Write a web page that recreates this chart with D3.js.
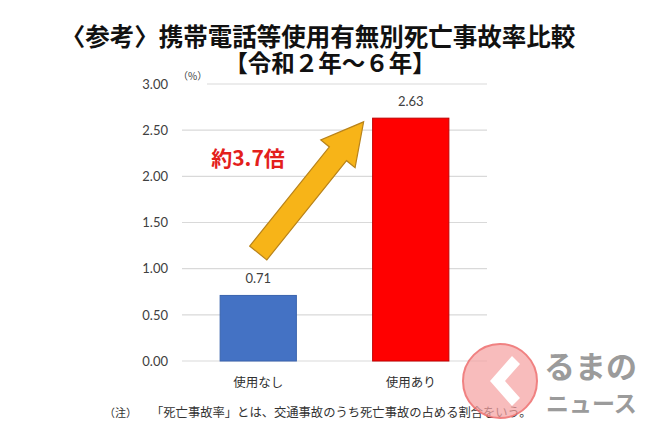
<!DOCTYPE html>
<html><head><meta charset="utf-8">
<script src="https://cdn.jsdelivr.net/npm/d3@7"></script>
<style>
html,body{margin:0;padding:0;background:#fff;}
svg{display:block;}
</style></head>
<body><svg id="c" width="650" height="433"></svg>
<script>
const categories = ["使用なし", "使用あり"];
const values = [0.71, 2.63];
const barColors = ["#4472c4", "#ff0000"];
const barStrokes = ["#3a63ad", "#c00000"];
const yTicks = [0, 0.5, 1.0, 1.5, 2.0, 2.5, 3.0];
const titleLines = ["〈参考〉携帯電話等使用有無別死亡事故率比較", "【令和２年～６年】"];
const unitLabel = "（%）";
const ratioLabel = "約3.7倍";
const noteLabel = "（注）";
const noteText = "「死亡事故率」とは、交通事故のうち死亡事故の占める割合をいう。";

const svg = d3.select("#c");
const jp = "'Noto Sans CJK JP','Noto Sans',sans-serif";
const num = "Lato,'Open Sans',sans-serif";

const x = d3.scaleBand().domain(categories).range([182, 487]).paddingInner(0.5).paddingOuter(0.25);
const y = d3.scaleLinear().domain([0, 3]).range([361, 84]);

// title (one text element, two lines)
const t = svg.append("text").attr("text-anchor", "middle")
  .attr("font-family", jp).attr("font-weight", "bold").attr("fill", "#111");
t.append("tspan").attr("x", 318).attr("y", 46).attr("font-size", 24.5).text(titleLines[0]);
t.append("tspan").attr("x", 330).attr("y", 72).attr("font-size", 23.5).text(titleLines[1]);

// gridlines
svg.append("g").selectAll("line").data(yTicks).join("line")
  .attr("x1", d => d === 3 ? 207 : 182).attr("x2", 487)
  .attr("y1", d => y(d)).attr("y2", d => y(d))
  .attr("stroke", "#d9d9d9").attr("stroke-width", 1.2);

// y axis labels
const yAxis = d3.axisLeft(y).tickValues(yTicks).tickFormat(d3.format(".2f")).tickSize(0).tickPadding(14);
const ga = svg.append("g").attr("transform", "translate(182,0)").call(yAxis);
ga.select(".domain").remove();
ga.selectAll("text").attr("font-family", num).attr("font-size", 13).attr("fill", "#404040");

svg.append("text").attr("x", 178).attr("y", 80).attr("font-family", jp).attr("font-size", 10).attr("fill", "#404040")
  .text(unitLabel);

// bars
svg.append("g").selectAll("rect").data(values).join("rect")
  .attr("x", (d, i) => x(categories[i]))
  .attr("width", x.bandwidth())
  .attr("y", d => y(d))
  .attr("height", d => y(0) - y(d))
  .attr("fill", (d, i) => barColors[i])
  .attr("stroke", (d, i) => barStrokes[i]).attr("stroke-width", 1);

// value labels
svg.append("g").selectAll("text").data(values).join("text")
  .attr("x", (d, i) => x(categories[i]) + x.bandwidth() / 2)
  .attr("y", d => y(d) - 12)
  .attr("text-anchor", "middle").attr("font-family", num).attr("font-size", 13).attr("fill", "#404040")
  .text(d => d.toFixed(2));

// category labels
svg.append("g").selectAll("text").data(categories).join("text")
  .attr("x", d => x(d) + x.bandwidth() / 2).attr("y", 387)
  .attr("text-anchor", "middle").attr("font-family", jp).attr("font-size", 12.5).attr("fill", "#303030")
  .text(d => d);

// arrow
const tail = [x(categories[0]) + x.bandwidth() / 2, y(1.17)];
const tip = [x(categories[1]) - 9, y(2.59)];
const dx = tip[0] - tail[0], dy = tip[1] - tail[1];
const L = Math.hypot(dx, dy), ang = Math.atan2(dy, dx) * 180 / Math.PI;
const w = 11, h = 22, hl = 41;
const pts = [[0, -w], [L - hl, -w], [L - hl, -h], [L, 0], [L - hl, h], [L - hl, w], [0, w]];
svg.append("polygon")
  .attr("points", pts.map(p => p.join(",")).join(" "))
  .attr("transform", `translate(${tail[0]},${tail[1]}) rotate(${ang})`)
  .attr("fill", "#f7b418").attr("stroke", "#b9831a").attr("stroke-width", 1.2).attr("stroke-linejoin", "miter");

svg.append("text").attr("x", 248).attr("y", 166).attr("text-anchor", "middle")
  .attr("font-family", jp).attr("font-weight", "bold").attr("font-size", 21).attr("fill", "#e3201b")
  .text(ratioLabel);

// footnote
svg.append("text").attr("x", 104).attr("y", 417).attr("font-family", jp).attr("font-size", 11).attr("fill", "#333")
  .text(noteLabel);
svg.append("text").attr("x", 151).attr("y", 417).attr("font-family", jp).attr("font-size", 12.3).attr("fill", "#333")
  .text(noteText);

// watermark logo
const wm = svg.append("g").attr("opacity", 0.85);
wm.append("circle").attr("cx", 500).attr("cy", 381).attr("r", 37)
  .attr("fill", "#f6a3a3").attr("fill-opacity", 0.85).attr("stroke", "#ee6c6c").attr("stroke-width", 2);
wm.append("path").attr("d", "M512,356 L490,381 L512,406 L520,398 L505,381 L520,364 Z").attr("fill", "#fff");
wm.append("text").attr("x", 544).attr("y", 378).attr("font-family", jp).attr("font-weight", "bold")
  .attr("font-size", 31).attr("fill", "#8a8a8a").text("るまの");
wm.append("text").attr("x", 546).attr("y", 412).attr("font-family", jp).attr("font-weight", "bold")
  .attr("font-size", 23).attr("fill", "#8a8a8a").text("ニュース");
</script></body></html>
